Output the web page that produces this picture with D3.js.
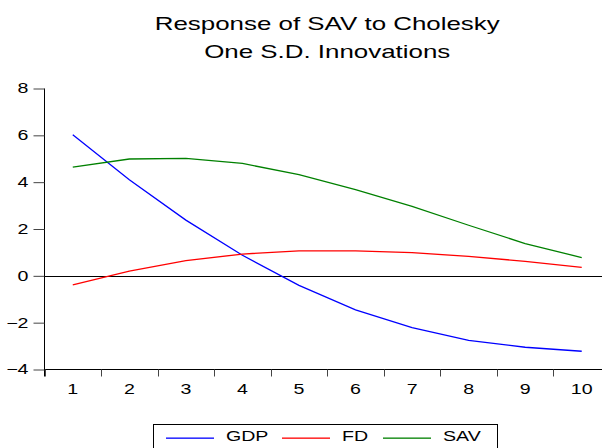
<!DOCTYPE html>
<meta charset="utf-8">
<head>
<style>
body {
  margin: 0;
  font-family: Arial, 'Liberation Sans', Helvetica, sans-serif;
  background: #fff;
}
svg { display: block; }
.axis { font-size: 14px; font-family: Arial, 'Liberation Sans', sans-serif; }
.axis path { stroke: #000; }
.axis line { stroke: #444; }
.line { fill: none; stroke-width: 1.3; }
</style>
</head>
<body>
<div id="chart"></div>
<script src="https://d3js.org/d3.v7.min.js"></script>
<script>

var periods = [1, 2, 3, 4, 5, 6, 7, 8, 9, 10];
var gdp = [6.02, 4.1, 2.38, 0.88, -0.41, -1.45, -2.21, -2.76, -3.05, -3.22];
var fd  = [-0.39, 0.2, 0.65, 0.93, 1.07, 1.07, 0.99, 0.83, 0.62, 0.36];
var sav = [4.64, 4.99, 5.02, 4.8, 4.32, 3.68, 2.97, 2.16, 1.38, 0.78];
var yTicks = [-4, -2, 0, 2, 4, 6, 8];
var seriesNames = ["GDP", "FD", "SAV"];
var seriesColors = ["#0000ff", "#ff0000", "#008000"];

var width = 602, height = 448;
var plotLeft = 44.5, plotRight = 610, plotTop = 88.5, plotBottom = 369.5;
var stretch = 1.4; // the original picture is stretched sideways

var svg = d3.select("#chart").append("svg")
    .attr("width", width)
    .attr("height", height);

var x = d3.scaleBand()
    .domain(periods)
    .range([plotLeft, plotRight]);

var y = d3.scaleLinear()
    .domain([-4, 8])
    .range([plotBottom, plotTop]);

function wideText(sel, px, py) {
  sel.attr("x", 0).attr("y", 0)
     .attr("transform", "translate(" + px + "," + py + ") scale(" + stretch + ",1)");
}

// title
var cx = (plotLeft + plotRight) / 2;
svg.append("text")
    .attr("text-anchor", "middle")
    .style("font-size", "18.5px")
    .text("Response of SAV to Cholesky")
    .call(wideText, cx, 30);
svg.append("text")
    .attr("text-anchor", "middle")
    .style("font-size", "18.5px")
    .text("One S.D. Innovations")
    .call(wideText, cx, 58);

// y axis
var yAxis = svg.append("g")
    .attr("class", "axis")
    .attr("transform", "translate(" + plotLeft + ",0)")
    .call(d3.axisLeft(y).tickValues(yTicks).tickSize(11).tickSizeOuter(0));
yAxis.select(".domain").attr("d", "M0," + plotTop + "V" + (plotBottom + 7));
yAxis.selectAll(".tick text").each(function() {
  d3.select(this).call(wideText, -16, 0);
});

// x axis
var xAxis = svg.append("g")
    .attr("class", "axis")
    .attr("transform", "translate(0," + plotBottom + ")")
    .call(d3.axisBottom(x).tickSize(0).tickSizeOuter(0));
xAxis.select(".domain").attr("d", "M" + plotLeft + ",0H" + plotRight);
xAxis.selectAll(".tick line").remove();
xAxis.selectAll(".tick text").attr("dy", null).each(function() {
  d3.select(this).call(wideText, 0, 24);
});
xAxis.selectAll(".sep")
    .data(periods)
  .enter().append("line")
    .attr("x1", function(d) { return Math.round(x(d)) + 0.5; })
    .attr("x2", function(d) { return Math.round(x(d)) + 0.5; })
    .attr("y1", 0).attr("y2", 7)
    .attr("stroke", "#000");

// zero line
svg.append("line")
    .attr("x1", plotLeft).attr("x2", plotRight)
    .attr("y1", Math.round(y(0)) + 0.5).attr("y2", Math.round(y(0)) + 0.5)
    .attr("stroke", "#000");

var line = d3.line()
    .x(function(d, i) { return x(periods[i]) + x.bandwidth() / 2; })
    .y(function(d) { return y(d); });

[gdp, fd, sav].forEach(function(s, i) {
  svg.append("path")
      .datum(s)
      .attr("class", "line")
      .attr("stroke", seriesColors[i])
      .attr("d", line);
});

// legend
var legend = svg.append("g");
legend.append("rect")
    .attr("x", 153.5).attr("y", 424.5)
    .attr("width", 344).attr("height", 40)
    .attr("fill", "#fff").attr("stroke", "#000");
var lx = [166, 282, 383];
seriesNames.forEach(function(n, i) {
  legend.append("rect")
      .attr("x", lx[i]).attr("y", 437.5)
      .attr("width", 48).attr("height", 1.3)
      .attr("fill", seriesColors[i]);
  legend.append("text")
      .style("font-size", "14px")
      .text(n)
      .call(wideText, lx[i] + 60, 441);
});

</script>
</body>
